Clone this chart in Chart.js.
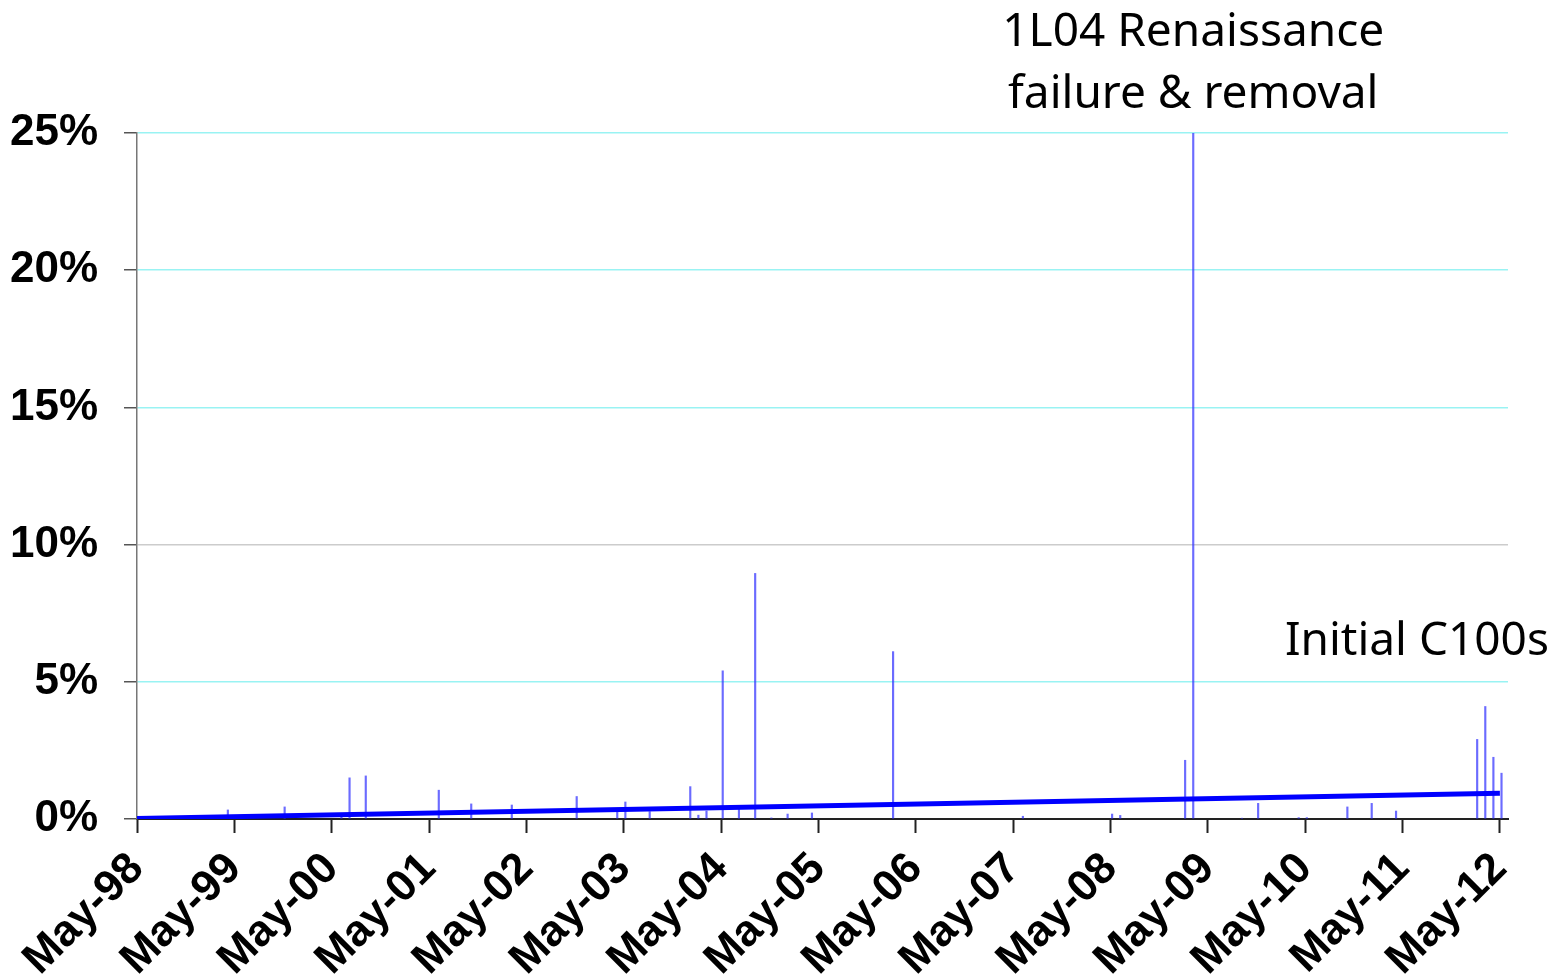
<!DOCTYPE html>
<html>
<head>
<meta charset="utf-8">
<script src="https://cdn.jsdelivr.net/npm/chart.js@4"></script>
<style>
  html, body { margin: 0; padding: 0; background: #fff; }
  #wrap { width: 1556px; height: 980px; }
</style>
</head>
<body>
<div id="wrap"><canvas id="chart"></canvas></div>
<script>
// monthly events (year-month) and their share in %
const spikeDates = ['1999-04', '1999-11', '2000-06', '2000-07', '2000-09', '2001-06', '2001-10', '2002-03',
  '2002-11', '2003-04', '2003-05', '2003-08', '2004-01', '2004-02', '2004-03', '2004-05', '2004-07', '2004-09',
  '2004-11', '2005-01', '2005-04', '2006-02', '2007-06', '2008-05', '2008-06', '2009-02', '2009-03', '2009-09',
  '2009-11', '2010-04', '2010-05', '2010-10', '2011-01', '2011-04', '2012-02', '2012-03', '2012-04', '2012-05'];
const spikeValues = [0.33, 0.44, 0.1, 1.5, 1.57, 1.05, 0.55, 0.51,
  0.82, 0.27, 0.62, 0.27, 1.18, 0.14, 0.29, 5.4, 0.35, 8.95,
  0.04, 0.18, 0.22, 6.1, 0.1, 0.18, 0.13, 2.14, 25, 0.03,
  0.57, 0.05, 0.05, 0.44, 0.57, 0.29, 2.9, 4.1, 2.25, 1.67];

// linear trend, start and end
const trendDates = ['1998-05', '2012-05'];
const trendValues = [0.02, 0.94];

const xTickDates = ['1998-05', '1999-05', '2000-05', '2001-05', '2002-05', '2003-05', '2004-05',
  '2005-05', '2006-05', '2007-05', '2008-05', '2009-05', '2010-05', '2011-05', '2012-05'];
const xTickLabels = ['May-98', 'May-99', 'May-00', 'May-01', 'May-02', 'May-03', 'May-04',
  'May-05', 'May-06', 'May-07', 'May-08', 'May-09', 'May-10', 'May-11', 'May-12'];
const yTicks = [0, 5, 10, 15, 20, 25];

// months since May 1998
function monthIndex(d) {
  const [y, m] = d.split('-').map(Number);
  return (y - 1998) * 12 + (m - 5);
}
const EVENT_DAY = 0.2; // events land about a week into the month

const labelFont = { family: '"Liberation Sans", Arial, sans-serif', size: 44, weight: 'bold' };

const notes = {
  id: 'notes',
  afterDraw(chart) {
    const ctx = chart.ctx;
    const x = chart.scales.x, y = chart.scales.y;
    ctx.save();
    ctx.fillStyle = '#000';
    ctx.font = '46px "Noto Sans", "Open Sans", sans-serif';
    ctx.textBaseline = 'middle';
    ctx.textAlign = 'center';
    const cx = x.getPixelForValue(monthIndex('2009-03') + EVENT_DAY);
    ctx.fillText('1L04 Renaissance', cx, 33);
    ctx.fillText('failure & removal', cx, 95);
    ctx.textAlign = 'left';
    ctx.fillText('Initial C100s', x.getPixelForValue(141.5), y.getPixelForValue(6.45));
    ctx.restore();
  }
};

new Chart(document.getElementById('chart'), {
  data: {
    datasets: [{
      type: 'line',
      data: trendDates.map((d, i) => ({ x: monthIndex(d), y: trendValues[i] })),
      borderColor: '#0000ff',
      borderWidth: 5,
      pointRadius: 0,
      order: 0
    }, {
      type: 'bar',
      data: spikeDates.map((d, i) => ({ x: monthIndex(d) + EVENT_DAY, y: spikeValues[i] })),
      backgroundColor: 'rgba(50, 50, 255, 0.72)',
      barThickness: 1.5,
      order: 1
    }]
  },
  options: {
    responsive: true,
    maintainAspectRatio: false,
    animation: false,
    layout: { padding: { top: 133, right: 48, left: 0, bottom: 0 } },
    plugins: { legend: { display: false }, tooltip: { enabled: false } },
    scales: {
      x: {
        type: 'linear',
        min: 0,
        max: 169,
        offset: false,
        afterBuildTicks: s => { s.ticks = xTickDates.map(d => ({ value: monthIndex(d) })); },
        afterFit: s => { s.height = 161; },
        grid: { offset: false, drawOnChartArea: false, tickLength: 14, tickColor: '#222', tickWidth: 2 },
        border: { color: '#222', width: 2 },
        ticks: {
          autoSkip: false,
          minRotation: 45,
          maxRotation: 45,
          padding: 10,
          color: '#000',
          font: labelFont,
          callback: (v, i) => xTickLabels[i]
        }
      },
      y: {
        min: 0,
        max: 25,
        afterBuildTicks: s => { s.ticks = yTicks.map(v => ({ value: v })); },
        afterFit: s => { s.width = 137; },
        grid: {
          color: c => c.tick && c.tick.value === 10 ? '#cccccc' : (c.tick && c.tick.value === 0 ? 'rgba(0,0,0,0)' : '#99f3f3'),
          lineWidth: 1.5,
          tickLength: 13,
          tickColor: '#555'
        },
        border: { color: '#777', width: 1.5 },
        ticks: {
          padding: 26,
          color: '#000',
          font: labelFont,
          callback: v => v + '%'
        }
      }
    }
  },
  plugins: [notes]
});
</script>
</body>
</html>
